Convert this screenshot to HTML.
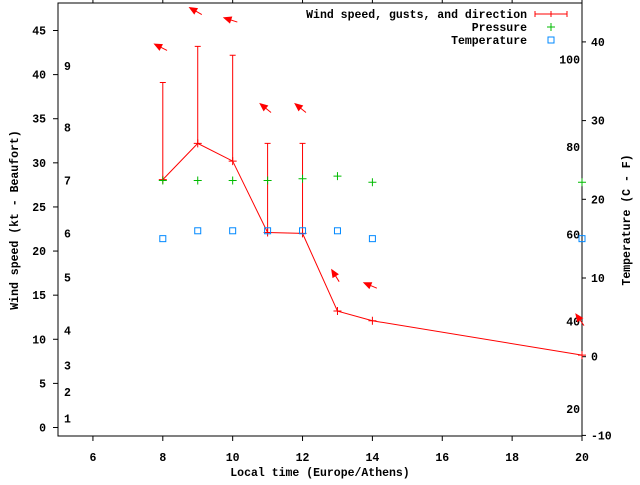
<!DOCTYPE html>
<html><head><meta charset="utf-8"><style>
html,body{margin:0;padding:0;background:#fff;}
svg text{font-family:"Liberation Mono",monospace;font-weight:bold;font-size:11.5px;fill:#000;}
</style></head><body>
<svg id="chart" width="640" height="480" xmlns="http://www.w3.org/2000/svg">
<rect x="0" y="0" width="640" height="480" fill="#fff"/>
<g id="axes"></g>
<g id="marks"></g>
<text x="320" y="476" text-anchor="middle">Local time (Europe/Athens)</text>
<text transform="translate(18,220) rotate(-90)" text-anchor="middle">Wind speed (kt - Beaufort)</text>
<text transform="translate(630,220) rotate(-90)" text-anchor="middle">Temperature (C - F)</text>
<g>
<text x="527" y="18" text-anchor="end">Wind speed, gusts, and direction</text>
<line x1="535" y1="14" x2="567" y2="14" stroke="#f00"/>
<line x1="535" y1="11" x2="535" y2="17" stroke="#f00"/>
<line x1="567" y1="11" x2="567" y2="17" stroke="#f00"/>
<line x1="551" y1="11" x2="551" y2="17" stroke="#f00"/>
<text x="527" y="31" text-anchor="end">Pressure</text>
<path d="M547 27h8M551 23v8" stroke="#0b0"/>
<text x="527" y="44" text-anchor="end">Temperature</text>
<rect x="548" y="37" width="6" height="6" fill="none" stroke="#08f"/>
</g>
</svg>
<script>
const hours=[8,9,10,11,12,13,14,20];
const windKt=[28.1,32.2,30.2,22.1,22,13.2,12.1,8.2];
const gustKt=[39.1,43.2,42.2,32.2,32.2,null,null,null];
const pressureScaled=[28,28,28,28,28.2,28.5,27.8,27.8];
const tempC=[15,16,16,16,16,16,15,15];
const dirDeg=[153,150,162,141,141,122,157,125];
const xTicks=[6,8,10,12,14,16,18,20];
const yTicks=[0,5,10,15,20,25,30,35,40,45];
const y2Ticks=[-10,0,10,20,30,40];
const beaufortLabels=["1","2","3","4","5","6","7","8","9"];
const beaufortKt=[1,4,7,11,17,22,28,34,41];
const fahrLabels=[20,40,60,80,100];

const L=58,R=582,T=3,B=436;
const X=h=>L+(h-5)*(R-L)/15;
const Y=v=>427.5-v*(427.5-30.5)/45;
const Y2=c=>356.7-c*7.87;
const NS="http://www.w3.org/2000/svg";
const axes=document.getElementById('axes'),marks=document.getElementById('marks');
function mk(p,tag,attrs){const e=document.createElementNS(NS,tag);for(const k in attrs)e.setAttribute(k,attrs[k]);p.appendChild(e);return e;}

let e=mk(axes,'rect',{x:L,y:T,width:R-L,height:B-T,fill:'none',stroke:'#000'});


xTicks.forEach(h=>{
 let t=mk(axes,'path',{d:`M${X(h)} ${B}v5M${X(h)} ${T}v-3`,stroke:'#000'});
 
 
 let l=mk(axes,'text',{x:X(h),y:461,'text-anchor':'middle'});l.textContent=h;
 
 
});
yTicks.forEach(v=>{
 let t=mk(axes,'path',{d:`M${L} ${Y(v)}h-5`,stroke:'#000'});
 
 
 let l=mk(axes,'text',{x:46,y:Y(v)+4,'text-anchor':'end'});l.textContent=v;
 
 
});
y2Ticks.forEach(v=>{
 let t=mk(axes,'path',{d:`M${R} ${Y2(v)}h4`,stroke:'#000'});
 
 
 let l=mk(axes,'text',{x:591,y:Y2(v)+4,'text-anchor':'start'});l.textContent=v;
 
 
});
beaufortLabels.forEach((b,i)=>{
 let l=mk(axes,'text',{x:64,y:Y(beaufortKt[i])+4});l.textContent=b;
 
 
});
fahrLabels.forEach(f=>{
 let l=mk(axes,'text',{x:580,y:Y2((f-32)*5/9)+4,'text-anchor':'end'});l.textContent=f;
 
 
});

// wind line
let pl=mk(marks,'polyline',{points:hours.map((h,i)=>X(h)+','+Y(windKt[i])).join(' '),fill:'none',stroke:'#f00'});


hours.forEach((h,i)=>{
 const x=X(h),y=Y(windKt[i]);
 let p=mk(marks,'path',{d:`M${x-4} ${y}h8M${x} ${y-4}v8`,stroke:'#f00'});
 
 
 if(gustKt[i]!=null){
  const g=Y(gustKt[i]);
  let b=mk(marks,'path',{d:`M${x} ${y}V${g}M${x-3} ${g}h6`,stroke:'#f00'});
  
  
 }
 // direction arrow
 const top=Math.max(windKt[i],gustKt[i]||0)+4;
 const cy=Y(top),a=dirDeg[i]*Math.PI/180,len=14;
 const hx=x-2+Math.cos(a)*len/2,hy=cy-Math.sin(a)*len/2,tx=x-2-Math.cos(a)*len/2,ty=cy+Math.sin(a)*len/2;
 const ux=Math.cos(a),uy=-Math.sin(a);
 const bx=hx-ux*7,by=hy-uy*7;
 let ar=mk(marks,'path',{d:`M${tx} ${ty}L${hx} ${hy}M${hx} ${hy}L${bx-uy*3} ${by+ux*3}L${bx+uy*3} ${by-ux*3}Z`,stroke:'#f00',fill:'#f00'});
 
 
 // pressure
 const py=Y(pressureScaled[i]);
 let pp=mk(marks,'path',{d:`M${x-4} ${py}h8M${x} ${py-4}v8`,stroke:'#0b0'});
 
 
 // temperature
 let tp=mk(marks,'rect',{x:x-3,y:Y2(tempC[i])-3,width:6,height:6,fill:'none',stroke:'#08f'});
 
 
});
</script>
</body></html>
